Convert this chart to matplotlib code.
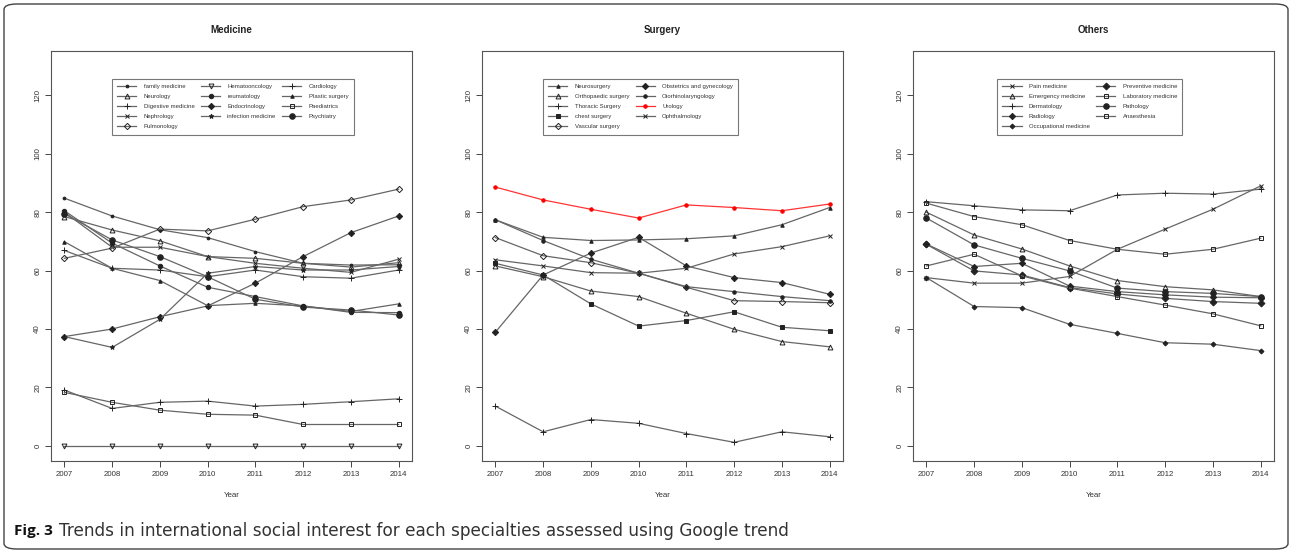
import matplotlib
matplotlib.use("Agg")
import matplotlib.pyplot as plt
from matplotlib.patches import FancyBboxPatch

plt.rcParams['font.family'] = ['Liberation Sans', 'DejaVu Sans']

years = [2007, 2008, 2009, 2010, 2011, 2012, 2013, 2014]

# Medicine
med_labels = ["family medicine", "Neurology", "Digestive medicine", "Nephrology", "Pulmonology",
              "Hematooncology", "reumatology", "Endocrinology", "infection medicine", "Cardiology",
              "Plastic surgery", "Paediatrics", "Psychiatry"]
family_medicine = [84.8, 78.7, 74.0, 71.3, 66.5, 62.5, 61.9, 62.0]
neurology = [78.5, 73.9, 70.2, 64.8, 64.2, 62.5, 61.2, 62.7]
digestive = [66.9, 60.8, 60.2, 57.9, 60.2, 57.9, 57.4, 60.2]
nephrology = [80.0, 68.0, 68.0, 64.8, 62.5, 60.8, 59.4, 63.9]
pulmonology = [64.2, 67.7, 74.2, 73.6, 77.6, 81.9, 84.2, 87.9]
hematooncology = [0, 0, 0, 0, 0, 0, 0, 0]
reumatology = [80.5, 69.4, 61.6, 54.3, 51.1, 47.9, 45.7, 45.6]
endocrinology = [37.4, 40.0, 44.2, 47.9, 55.7, 64.8, 73.0, 78.7]
infection = [37.4, 33.7, 43.3, 59.1, 61.4, 60.2, 60.2, 61.4]
cardiology = [19.1, 12.8, 14.9, 15.3, 13.6, 14.2, 15.1, 16.1]
plastic_surgery = [69.9, 60.8, 56.6, 48.0, 48.8, 47.9, 46.0, 48.6]
paediatrics = [18.3, 14.9, 12.2, 10.8, 10.5, 7.3, 7.3, 7.3]
psychiatry = [79.5, 70.5, 64.8, 57.9, 50.2, 47.5, 46.5, 44.8]
med_values = [family_medicine, neurology, digestive, nephrology, pulmonology, hematooncology,
              reumatology, endocrinology, infection, cardiology, plastic_surgery, paediatrics, psychiatry]

# Surgery
surg_labels = ["Neurosurgery", "Orthopaedic surgery", "Thoracic Surgery", "chest surgery", "Vascular surgery",
               "Obstetrics and gynecology", "Otorhinolaryngology", "Urology", "Ophthalmology"]
neurosurgery = [77.4, 71.4, 70.3, 70.5, 70.9, 71.9, 75.7, 81.6]
orthopaedic = [61.6, 57.9, 53.0, 51.1, 45.4, 39.9, 35.7, 33.9]
thoracic = [13.6, 4.8, 9.0, 7.7, 4.2, 1.2, 4.8, 3.1]
chest = [62.5, 58.5, 48.6, 41.0, 42.9, 45.9, 40.6, 39.4]
vascular = [71.3, 65.1, 62.7, 59.1, 54.3, 49.7, 49.4, 49.0]
obstetrics = [38.9, 58.5, 66.0, 71.4, 61.6, 57.6, 55.9, 51.9]
otorhino = [77.4, 70.3, 63.9, 59.1, 54.5, 52.8, 51.1, 49.7]
urology = [88.6, 84.2, 81.0, 78.0, 82.5, 81.6, 80.5, 82.8]
ophthalmology = [63.7, 61.6, 59.3, 59.1, 60.8, 65.7, 68.2, 71.9]
surg_values = [neurosurgery, orthopaedic, thoracic, chest, vascular, obstetrics, otorhino, urology, ophthalmology]

# Others
oth_labels = ["Pain medicine", "Emergency medicine", "Dermatology", "Radiology", "Occupational medicine",
              "Preventive medicine", "Laboratory medicine", "Pathology", "Anaesthesia"]
pain = [57.6, 55.7, 55.7, 58.0, 67.3, 74.2, 81.0, 89.0]
emergency = [80.0, 72.2, 67.4, 61.6, 56.6, 54.5, 53.4, 51.1]
dermatology = [83.6, 82.2, 80.8, 80.5, 85.9, 86.5, 86.2, 87.9]
radiology = [69.1, 61.4, 62.5, 54.7, 52.8, 51.7, 50.9, 50.7]
occupational = [57.6, 47.7, 47.3, 41.6, 38.5, 35.3, 34.8, 32.6]
preventive = [69.0, 59.9, 58.5, 54.2, 52.0, 50.5, 49.4, 48.8]
laboratory = [61.6, 65.6, 58.2, 54.0, 51.1, 48.2, 45.2, 41.1]
pathology = [78.0, 68.8, 64.2, 59.9, 54.0, 52.8, 52.2, 51.1]
anaesthesia = [83.1, 78.5, 75.7, 70.3, 67.3, 65.6, 67.3, 71.1]
oth_values = [pain, emergency, dermatology, radiology, occupational, preventive, laboratory, pathology, anaesthesia]

# 标记样式 (marker, filled, size)
med_marks = [('o', True, 2), ('^', False, 3.5), ('+', False, 4.5), ('x', False, 3.5), ('D', False, 3.2),
             ('v', False, 3.5), ('o', True, 3.2), ('D', True, 3.2), ('*', True, 3.5), ('+', False, 4),
             ('^', True, 2.5), ('s', False, 3.2), ('o', True, 4)]
surg_marks = [('^', True, 2.5), ('^', False, 3.5), ('+', False, 4.5), ('s', True, 2.8), ('D', False, 3.2),
              ('D', True, 3.2), ('o', True, 2.5), ('o', True, 2.5), ('x', False, 3.5)]
oth_marks = [('x', False, 3.5), ('^', False, 3.5), ('+', False, 4.5), ('D', True, 3.2), ('D', True, 2.5),
             ('D', True, 3.5), ('s', False, 3.2), ('o', True, 4), ('s', False, 3.2)]

W, H = 1292, 553
fig = plt.figure(figsize=(W / 100, H / 100), dpi=100)

# 外框
frame = FancyBboxPatch((4 / W, 4 / H), 1284 / W, 545 / H, boxstyle="round,pad=0,rounding_size=0.01",
                       transform=fig.transFigure, fill=False, edgecolor='#444444', linewidth=1.0)
fig.patches.append(frame)

panels = [
    ("Medicine", 51, med_labels, med_values, med_marks, 3, 0.169),
    ("Surgery", 482, surg_labels, surg_values, surg_marks, 2, 0.169),
    ("Others", 913, oth_labels, oth_values, oth_marks, 2, 0.233),
]

for title, left, labels, values, marks, ncol, leg_x in panels:
    ax = fig.add_axes([left / W, 1 - 461 / H, 361 / W, 410 / H])
    for lab, vals, (m, filled, ms) in zip(labels, values, marks):
        red = lab == "Urology"
        lc = '#ff3333' if red else '#666666'
        mc = '#ff0000' if red else '#222222'
        ax.plot(years, vals, color=lc, linewidth=0.9, marker=m, markersize=ms,
                markerfacecolor=mc if filled else 'none', markeredgecolor=mc,
                markeredgewidth=0.7, label=lab)
    ax.set_xlim(2006.72, 2014.28)
    ax.set_ylim(-5.2, 135.2)
    ax.set_xticks(years)
    ax.set_yticks(range(0, 121, 20))
    ax.set_yticklabels([str(v) for v in range(0, 121, 20)], rotation=90, va='center')
    ax.tick_params(direction='out', length=4, width=0.7, colors='#444444', labelsize=5.7,
                   labelcolor='#333333', pad=3)
    for s in ax.spines.values():
        s.set_color('#555555')
        s.set_linewidth(0.8)
    ax.set_title(title, fontsize=7, fontweight='bold', pad=13, color='#222222')
    ax.set_xlabel("Year", fontsize=5.7, color='#333333', labelpad=10)
    leg = ax.legend(loc='upper left', bbox_to_anchor=(leg_x, 0.932), ncol=ncol, fontsize=4.3,
                    frameon=True, fancybox=False, edgecolor='#555555', handlelength=3.2,
                    labelspacing=0.8, columnspacing=1.1, handletextpad=1.2, borderpad=0.9,
                    borderaxespad=0)
    leg.get_frame().set_linewidth(0.8)
    for t in leg.get_texts():
        t.set_color('#333333')

# 图注
r = fig.canvas.get_renderer()
t1 = fig.text(14 / W, 1 - 531 / H, "Fig. 3", fontsize=11, fontweight='bold', color='#111111',
              va='center', family=['Open Sans', 'DejaVu Sans'])
bb = t1.get_window_extent(renderer=r)
fig.text((bb.x1 + 6) / W, 1 - 531 / H,
         "Trends in international social interest for each specialties assessed using Google trend",
         fontsize=12.2, color='#333333', va='center', family=['DejaVu Sans'])

fig.savefig("out.png", dpi=100)
